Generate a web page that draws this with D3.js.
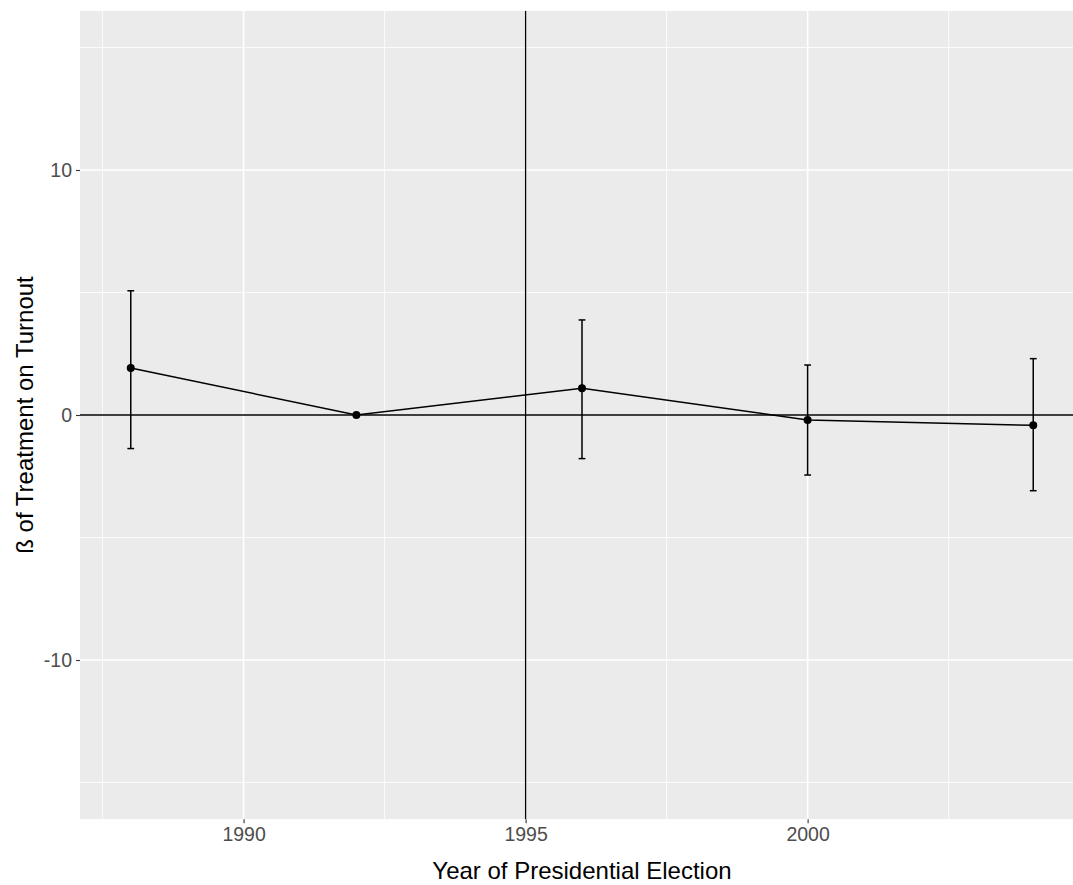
<!DOCTYPE html>
<html>
<head>
<meta charset="utf-8">
<script src="https://cdn.jsdelivr.net/npm/d3@7"></script>
<style>
  body { margin: 0; background: #fff; }
  text { font-family: "Liberation Sans", Arial, sans-serif; }
</style>
</head>
<body>
<div id="chart"></div>
<script>
// estimates
var years = [1988, 1992, 1996, 2000, 2004];
var beta = [1.92, 0, 1.09, -0.2, -0.42];
var lower = [-1.37, 0, -1.78, -2.45, -3.09];
var upper = [5.07, 0, 3.88, 2.04, 2.3];
var xTicks = [1990, 1995, 2000];
var xMinor = [1987.5, 1992.5, 1997.5, 2002.5];
var yTicks = [-10, 0, 10];
var yMinor = [-15, -5, 5, 15];
var refYear = 1995;

var width = 1073, height = 885;
var panelLeft = 80, panelTop = 10.75, panelRight = 1084, panelBottom = 819.25;

var svg = d3.select("#chart").append("svg")
    .attr("width", width).attr("height", height);

var x = d3.scaleLinear().domain([1987.1, 2004.9]).range([panelLeft, panelRight]);
var y = d3.scaleLinear().domain([-16.5, 16.5]).range([panelBottom, panelTop]);

svg.append("clipPath").attr("id", "panel")
    .append("rect")
    .attr("x", panelLeft).attr("y", panelTop)
    .attr("width", panelRight - panelLeft).attr("height", panelBottom - panelTop);

var panel = svg.append("g").attr("clip-path", "url(#panel)");

panel.append("rect")
    .attr("x", panelLeft).attr("y", panelTop)
    .attr("width", panelRight - panelLeft).attr("height", panelBottom - panelTop)
    .attr("fill", "#EBEBEB");

// grid
panel.selectAll(".xminor").data(xMinor).enter().append("line")
    .attr("x1", d => x(d)).attr("x2", d => x(d))
    .attr("y1", panelTop).attr("y2", panelBottom)
    .attr("stroke", "#fff").attr("stroke-width", 0.8);
panel.selectAll(".yminor").data(yMinor).enter().append("line")
    .attr("x1", panelLeft).attr("x2", panelRight)
    .attr("y1", d => y(d)).attr("y2", d => y(d))
    .attr("stroke", "#fff").attr("stroke-width", 0.8);
panel.selectAll(".xmajor").data(xTicks).enter().append("line")
    .attr("x1", d => x(d)).attr("x2", d => x(d))
    .attr("y1", panelTop).attr("y2", panelBottom)
    .attr("stroke", "#fff").attr("stroke-width", 1.6);
panel.selectAll(".ymajor").data(yTicks).enter().append("line")
    .attr("x1", panelLeft).attr("x2", panelRight)
    .attr("y1", d => y(d)).attr("y2", d => y(d))
    .attr("stroke", "#fff").attr("stroke-width", 1.6);

// reference lines
panel.append("line")
    .attr("x1", panelLeft).attr("x2", panelRight)
    .attr("y1", y(0)).attr("y2", y(0))
    .attr("stroke", "#000").attr("stroke-width", 1.3);
panel.append("line")
    .attr("x1", x(refYear)).attr("x2", x(refYear))
    .attr("y1", panelTop).attr("y2", panelBottom)
    .attr("stroke", "#000").attr("stroke-width", 1.3);

var data = years.map(function(d, i) {
    return {year: d, b: beta[i], lo: lower[i], hi: upper[i]};
});

// error bars
var capHalf = 0.06;
var bars = panel.selectAll(".err").data(data.filter(d => d.hi !== d.lo)).enter().append("g");
bars.append("line")
    .attr("x1", d => x(d.year)).attr("x2", d => x(d.year))
    .attr("y1", d => y(d.lo)).attr("y2", d => y(d.hi))
    .attr("stroke", "#000").attr("stroke-width", 1.5);
bars.append("line")
    .attr("x1", d => x(d.year - capHalf)).attr("x2", d => x(d.year + capHalf))
    .attr("y1", d => y(d.hi)).attr("y2", d => y(d.hi))
    .attr("stroke", "#000").attr("stroke-width", 1.5);
bars.append("line")
    .attr("x1", d => x(d.year - capHalf)).attr("x2", d => x(d.year + capHalf))
    .attr("y1", d => y(d.lo)).attr("y2", d => y(d.lo))
    .attr("stroke", "#000").attr("stroke-width", 1.5);

// line + points
panel.append("path")
    .datum(data)
    .attr("fill", "none").attr("stroke", "#000").attr("stroke-width", 1.5)
    .attr("d", d3.line().x(d => x(d.year)).y(d => y(d.b)));

panel.selectAll(".pt").data(data).enter().append("circle")
    .attr("cx", d => x(d.year)).attr("cy", d => y(d.b))
    .attr("r", 4).attr("fill", "#000");

// axes
var fmt = d => String(d);
var xAxis = svg.append("g")
    .attr("transform", "translate(0," + panelBottom + ")")
    .call(d3.axisBottom(x).tickValues(xTicks).tickFormat(fmt).tickSize(4).tickPadding(4));
var yAxis = svg.append("g")
    .attr("transform", "translate(" + panelLeft + ",0)")
    .call(d3.axisLeft(y).tickValues(yTicks).tickFormat(fmt).tickSize(4).tickPadding(4));

[xAxis, yAxis].forEach(function(a) {
    a.select(".domain").remove();
    a.selectAll(".tick line").attr("stroke", "#333").attr("stroke-width", 1.1);
    a.selectAll(".tick text")
        .attr("fill", "#4D4D4D")
        .style("font-size", "19.5px")
        .style("font-family", "Liberation Sans, Arial, sans-serif");
});

// titles
svg.append("text")
    .attr("x", (panelLeft + panelRight) / 2).attr("y", 879)
    .attr("text-anchor", "middle")
    .style("font-size", "24px").attr("fill", "#000")
    .text("Year of Presidential Election");

svg.append("text")
    .attr("transform", "translate(33," + ((panelTop + panelBottom) / 2) + ") rotate(-90)")
    .attr("text-anchor", "middle")
    .style("font-size", "24px").attr("fill", "#000")
    .text("ß of Treatment on Turnout");
</script>
</body>
</html>
